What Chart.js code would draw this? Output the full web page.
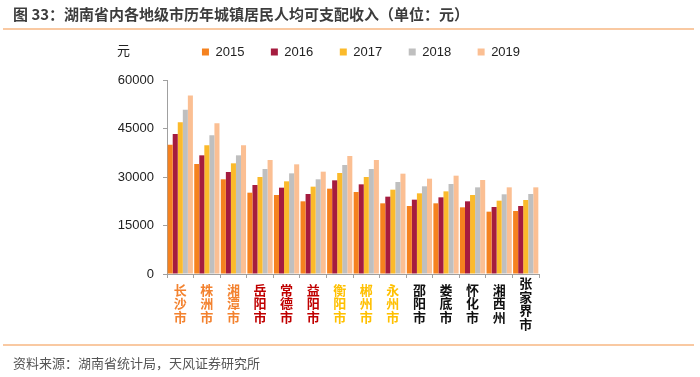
<!DOCTYPE html>
<html>
<head>
<meta charset="utf-8">
<script src="https://cdn.jsdelivr.net/npm/chart.js@4"></script>
<style>
body{margin:0;background:#fff;}
#box{position:relative;width:700px;height:377px;overflow:hidden;font-family:"Noto Sans CJK SC","Noto Sans",sans-serif;}
#box canvas{position:absolute;left:0;top:0;}
.rule{position:absolute;left:3px;width:691px;height:2px;background:#F9C9A2;}
#title{position:absolute;left:13px;top:4px;font-size:15px;font-weight:bold;color:#3c3c3c;line-height:20px;white-space:nowrap;}
#src{position:absolute;left:13px;top:354px;font-size:13px;color:#555;line-height:18px;white-space:nowrap;}
#unit{position:absolute;left:117px;top:41px;font-size:13px;color:#222;line-height:18px;}
</style>
</head>
<body>
<div id="box">
<canvas id="grafico" width="700" height="377"></canvas>
<div id="title">图 33：湖南省内各地级市历年城镇居民人均可支配收入（单位：元）</div>
<div class="rule" style="top:28px"></div>
<div id="unit">元</div>
<div class="rule" style="top:344px"></div>
<div id="src">资料来源：湖南省统计局，天风证券研究所</div>
</div>
<script>
const cidades=['长沙市','株洲市','湘潭市','岳阳市','常德市','益阳市','衡阳市','郴州市','永州市','邵阳市','娄底市','怀化市','湘西州','张家界市'];
const anos=['2015','2016','2017','2018','2019'];
const v2015=[39961,34020,29290,25150,24430,22480,26390,25360,21860,21030,21860,20620,19280,19480];
const v2016=[43294,36700,31550,27530,26700,24740,28970,27730,23920,22990,23710,22480,20720,21030];
const v2017=[46948,39800,34230,30000,28660,27010,31240,30000,26080,24950,25560,24430,22680,22890];
const v2018=[50792,42900,36700,32470,31130,29290,33710,32470,28450,27120,27840,26800,24650,24740];
const v2019=[55211,46600,39800,35260,33920,31650,36500,35260,31030,29480,30410,29070,26800,26800];
const yTicks=[0,15000,30000,45000,60000];

const cores=['#F5821F','#A51C3F','#FBBA2B','#BFBFBF','#FBBF93'];
const corLabel=['#F3822F','#F3822F','#F3822F','#C00000','#C00000','#C00000','#FFC000','#FFC000','#FFC000','#111','#111','#111','#111','#111'];
const series=[v2015,v2016,v2017,v2018,v2019];

const datasets=anos.map((a,i)=>({
 label:a,
 data:series[i],
 backgroundColor:cores[i],
 borderWidth:0,
 categoryPercentage:0.95,
 barPercentage:1.0
}));

const labels=cidades.map(c=>c.split(''));

const ajusteLegenda={
 id:'ajusteLegenda',
 beforeInit(chart){
   const f=chart.legend.fit;
   chart.legend.fit=function(){f.call(this);this.height=61;};
 },
 afterLayout(chart){
   chart.legend.left+=8;
   chart.legend.right+=8;
 }
};

new Chart(document.getElementById('grafico'),{
 type:'bar',
 data:{labels,datasets},
 plugins:[ajusteLegenda],
 options:{
  responsive:false,
  animation:false,
  devicePixelRatio:1,
  layout:{padding:{top:19,left:100,right:161,bottom:0}},
  plugins:{
   tooltip:{enabled:false},
   legend:{
    position:'top',
    fullSize:false,
    labels:{boxWidth:7,boxHeight:7,padding:26.5,color:'#222',font:{family:'"Liberation Sans",Arial,sans-serif',size:13}}
   }
  },
  scales:{
   x:{
    afterFit(s){s.height=103;},
    grid:{drawOnChartArea:false,drawTicks:true,tickLength:4,color:'#A0A0A0',offset:true},
    border:{color:'#A0A0A0'},
    ticks:{
     autoSkip:false,maxRotation:0,crossAlign:'center',padding:5,
     color:c=>corLabel[c.index],
     font:{family:'"Noto Sans CJK SC",sans-serif',size:13,weight:'bold',lineHeight:1.05}
    }
   },
   y:{
    min:0,max:60000,
    afterFit(s){s.width=67;},
    afterBuildTicks(s){s.ticks=yTicks.map(v=>({value:v}));},
    grid:{drawOnChartArea:false,drawTicks:true,tickLength:4,color:'#A0A0A0'},
    border:{color:'#A0A0A0'},
    ticks:{padding:9,color:'#222',callback:v=>String(v),font:{family:'"Liberation Sans",Arial,sans-serif',size:13}}
   }
  }
 }
});
</script>
</body>
</html>
